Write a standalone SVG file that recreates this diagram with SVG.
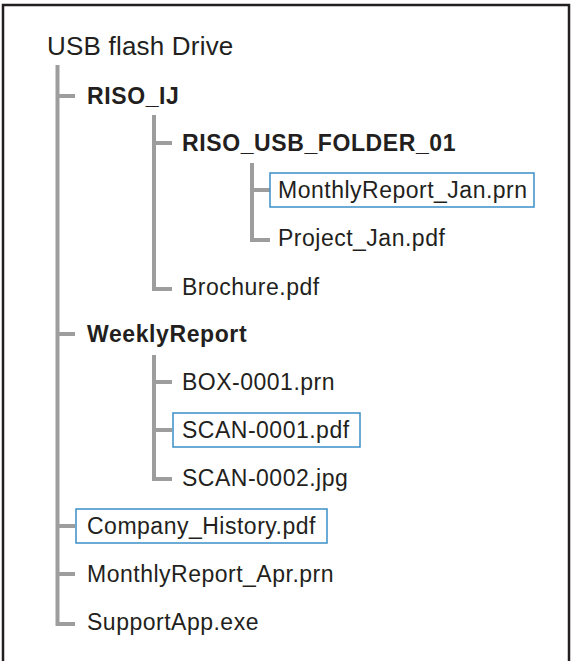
<svg xmlns="http://www.w3.org/2000/svg" width="571" height="661" viewBox="0 0 571 661">
<style>
text{font-family:"Liberation Sans",Arial,sans-serif;fill:#231f20;font-size:23px;letter-spacing:0.5px}
.title{font-size:26px;letter-spacing:0.2px}
.b{font-weight:bold;letter-spacing:0.6px}
.ln{stroke:#9d9d9d;stroke-width:4;fill:none}
.hl{fill:none;stroke:#3a8fc8;stroke-width:1.5}
</style>
<rect x="3" y="5" width="566" height="700" fill="#fff" stroke="#231f20" stroke-width="2.5"/>
<g id="connectors">
<path class="ln" d="M57.5 65V624H75M57.5 96H75M57.5 334H75M57.5 526H75M57.5 574H75"/>
<path class="ln" d="M154 115V289H172M154 143H172"/>
<path class="ln" d="M252 163V240H270M252 190H270"/>
<path class="ln" d="M154 355V479H172M154 382H172M154 430H172"/>
</g>
<g id="root"><text class="title" x="47" y="55">USB flash Drive</text></g>
<g id="riso_ij"><text class="b" x="87" y="104">RISO_IJ</text></g>
<g id="riso_usb_folder_01"><text class="b" x="182" y="151">RISO_USB_FOLDER_01</text></g>
<g id="monthlyreport_jan"><rect class="hl" x="270" y="173" width="264" height="34"/><text x="278" y="198">MonthlyReport_Jan.prn</text></g>
<g id="project_jan"><text x="278" y="246">Project_Jan.pdf</text></g>
<g id="brochure"><text x="182" y="295">Brochure.pdf</text></g>
<g id="weeklyreport"><text class="b" x="87" y="342">WeeklyReport</text></g>
<g id="box0001"><text x="182" y="390">BOX-0001.prn</text></g>
<g id="scan0001"><rect class="hl" x="173" y="413" width="187" height="34"/><text x="182" y="438">SCAN-0001.pdf</text></g>
<g id="scan0002"><text x="182" y="486">SCAN-0002.jpg</text></g>
<g id="company_history"><rect class="hl" x="76" y="509" width="251" height="34"/><text x="87" y="534">Company_History.pdf</text></g>
<g id="monthlyreport_apr"><text x="87" y="582">MonthlyReport_Apr.prn</text></g>
<g id="supportapp"><text x="87" y="630">SupportApp.exe</text></g>
</svg>
